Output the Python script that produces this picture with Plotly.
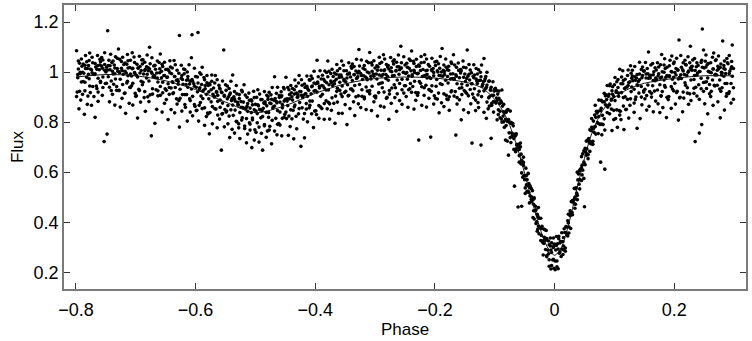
import plotly.graph_objects as go

# Phase-folded light curve, first block of observations (phase, normalised flux)
PHASE = [
    -0.790, -0.791, -0.792, -0.793, -0.794, -0.795, -0.796, -0.797, -0.798, -0.799,
    -0.781, -0.781, -0.782, -0.784, -0.785, -0.785, -0.786, -0.788, -0.789, -0.789,
    -0.770, -0.772, -0.773, -0.773, -0.774, -0.776, -0.777, -0.777, -0.778, -0.779,
    -0.760, -0.761, -0.763, -0.764, -0.764, -0.765, -0.767, -0.768, -0.768, -0.769,
    -0.750, -0.752, -0.752, -0.753, -0.755, -0.756, -0.756, -0.757, -0.759, -0.759,
    -0.740, -0.741, -0.742, -0.743, -0.744, -0.745, -0.746, -0.747, -0.748, -0.749,
    -0.731, -0.731, -0.732, -0.734, -0.735, -0.735, -0.736, -0.738, -0.739, -0.739,
    -0.720, -0.722, -0.723, -0.723, -0.724, -0.726, -0.727, -0.727, -0.728, -0.729,
    -0.710, -0.711, -0.713, -0.714, -0.714, -0.715, -0.717, -0.718, -0.718, -0.719,
    -0.700, -0.702, -0.702, -0.703, -0.705, -0.706, -0.706, -0.707, -0.709, -0.709,
    -0.690, -0.691, -0.692, -0.693, -0.694, -0.695, -0.696, -0.697, -0.698, -0.699,
    -0.681, -0.681, -0.682, -0.684, -0.685, -0.685, -0.686, -0.688, -0.689, -0.689,
    -0.670, -0.672, -0.673, -0.673, -0.674, -0.676, -0.677, -0.677, -0.678, -0.679,
    -0.660, -0.661, -0.663, -0.664, -0.664, -0.665, -0.667, -0.668, -0.668, -0.669,
    -0.650, -0.652, -0.652, -0.653, -0.655, -0.656, -0.656, -0.657, -0.659, -0.659,
    -0.640, -0.641, -0.642, -0.643, -0.644, -0.645, -0.646, -0.647, -0.648, -0.649,
    -0.631, -0.631, -0.632, -0.634, -0.635, -0.635, -0.636, -0.638, -0.639, -0.639,
    -0.620, -0.622, -0.623, -0.623, -0.624, -0.626, -0.627, -0.627, -0.628, -0.629,
    -0.610, -0.611, -0.613, -0.614, -0.614, -0.615, -0.617, -0.618, -0.618, -0.619,
    -0.600, -0.602, -0.602, -0.603, -0.605, -0.606, -0.606, -0.607, -0.609, -0.609,
    -0.590, -0.591, -0.592, -0.593, -0.594, -0.595, -0.596, -0.597, -0.598, -0.599,
    -0.581, -0.581, -0.582, -0.584, -0.585, -0.585, -0.586, -0.588, -0.589, -0.589,
    -0.570, -0.572, -0.573, -0.573, -0.574, -0.576, -0.577, -0.577, -0.578, -0.579,
    -0.560, -0.561, -0.563, -0.564, -0.564, -0.565, -0.567, -0.568, -0.568, -0.569,
    -0.550, -0.552, -0.552, -0.553, -0.555, -0.556, -0.556, -0.557, -0.559, -0.559,
    -0.540, -0.541, -0.542, -0.543, -0.544, -0.545, -0.546, -0.547, -0.548, -0.549,
    -0.531, -0.531, -0.532, -0.534, -0.535, -0.535, -0.536, -0.538, -0.539, -0.539,
    -0.520, -0.522, -0.523, -0.523, -0.524, -0.526, -0.527, -0.527, -0.528, -0.529,
    -0.510, -0.511, -0.513, -0.514, -0.514, -0.515, -0.517, -0.518, -0.518, -0.519,
    -0.500, -0.502, -0.502, -0.503, -0.505, -0.506, -0.506, -0.507, -0.509, -0.509,
    -0.490, -0.491, -0.492, -0.493, -0.494, -0.495, -0.496, -0.497, -0.498, -0.499,
    -0.481, -0.481, -0.482, -0.484, -0.485, -0.485, -0.486, -0.488, -0.489, -0.489,
    -0.470, -0.472, -0.473, -0.473, -0.474, -0.476, -0.477, -0.477, -0.478, -0.479,
    -0.460, -0.461, -0.463, -0.464, -0.464, -0.465, -0.467, -0.468, -0.468, -0.469,
    -0.450, -0.452, -0.452, -0.453, -0.455, -0.456, -0.456, -0.457, -0.459, -0.459,
    -0.440, -0.441, -0.442, -0.443, -0.444, -0.445, -0.446, -0.447, -0.448, -0.449,
    -0.431, -0.431, -0.432, -0.434, -0.435, -0.435, -0.436, -0.438, -0.439, -0.439,
    -0.420, -0.422, -0.423, -0.423, -0.424, -0.426, -0.427, -0.427, -0.428, -0.429,
    -0.410, -0.411, -0.413, -0.414, -0.414, -0.415, -0.417, -0.418, -0.418, -0.419,
    -0.400, -0.402, -0.402, -0.403, -0.405, -0.406, -0.406, -0.407, -0.409, -0.409,
    -0.390, -0.391, -0.392, -0.393, -0.394, -0.395, -0.396, -0.397, -0.398, -0.399,
    -0.381, -0.381, -0.382, -0.384, -0.385, -0.385, -0.386, -0.388, -0.389, -0.389,
    -0.370, -0.372, -0.373, -0.373, -0.374, -0.376, -0.377, -0.377, -0.378, -0.379,
    -0.360, -0.361, -0.363, -0.364, -0.364, -0.365, -0.367, -0.368, -0.368, -0.369,
    -0.350, -0.352, -0.352, -0.353, -0.355, -0.356, -0.356, -0.357, -0.359, -0.359,
    -0.340, -0.341, -0.342, -0.343, -0.344, -0.345, -0.346, -0.347, -0.348, -0.349,
    -0.331, -0.331, -0.332, -0.334, -0.335, -0.335, -0.336, -0.338, -0.339, -0.339,
    -0.320, -0.322, -0.323, -0.323, -0.324, -0.326, -0.327, -0.327, -0.328, -0.329,
    -0.310, -0.311, -0.313, -0.314, -0.314, -0.315, -0.317, -0.318, -0.318, -0.319,
    -0.300, -0.302, -0.302, -0.303, -0.305, -0.306, -0.306, -0.307, -0.309, -0.309,
    -0.290, -0.291, -0.292, -0.293, -0.294, -0.295, -0.296, -0.297, -0.298, -0.299,
    -0.281, -0.281, -0.282, -0.284, -0.285, -0.285, -0.286, -0.288, -0.289, -0.289,
    -0.270, -0.272, -0.273, -0.273, -0.274, -0.276, -0.277, -0.277, -0.278, -0.279,
    -0.260, -0.261, -0.263, -0.264, -0.264, -0.265, -0.267, -0.268, -0.268, -0.269,
    -0.250, -0.252, -0.252, -0.253, -0.255, -0.256, -0.256, -0.257, -0.259, -0.259,
    -0.240, -0.241, -0.242, -0.243, -0.244, -0.245, -0.246, -0.247, -0.248, -0.249,
    -0.231, -0.231, -0.232, -0.234, -0.235, -0.235, -0.236, -0.238, -0.239, -0.239,
    -0.220, -0.222, -0.223, -0.223, -0.224, -0.226, -0.227, -0.227, -0.228, -0.229,
    -0.210, -0.211, -0.213, -0.214, -0.214, -0.215, -0.217, -0.218, -0.218, -0.219,
    -0.200, -0.202, -0.202, -0.203, -0.205, -0.206, -0.206, -0.207, -0.209, -0.209,
    -0.190, -0.191, -0.192, -0.193, -0.194, -0.195, -0.196, -0.197, -0.198, -0.199,
    -0.181, -0.181, -0.182, -0.184, -0.185, -0.185, -0.186, -0.188, -0.189, -0.189,
    -0.170, -0.172, -0.173, -0.173, -0.174, -0.176, -0.177, -0.177, -0.178, -0.179,
    -0.160, -0.161, -0.163, -0.164, -0.164, -0.165, -0.167, -0.168, -0.168, -0.169,
    -0.150, -0.152, -0.152, -0.153, -0.155, -0.156, -0.156, -0.157, -0.159, -0.159,
    -0.140, -0.141, -0.142, -0.143, -0.144, -0.145, -0.146, -0.147, -0.148, -0.149,
    -0.131, -0.131, -0.132, -0.134, -0.135, -0.135, -0.136, -0.138, -0.139, -0.139,
    -0.120, -0.122, -0.123, -0.123, -0.124, -0.126, -0.127, -0.127, -0.128, -0.129,
    -0.110, -0.111, -0.113, -0.114, -0.114, -0.115, -0.117, -0.118, -0.118, -0.119,
    -0.100, -0.102, -0.102, -0.103, -0.105, -0.106, -0.106, -0.107, -0.109, -0.109,
    -0.090, -0.091, -0.092, -0.093, -0.094, -0.095, -0.096, -0.097, -0.098, -0.099,
    -0.081, -0.081, -0.082, -0.084, -0.085, -0.085, -0.086, -0.088, -0.089, -0.089,
    -0.070, -0.072, -0.073, -0.073, -0.074, -0.076, -0.077, -0.077, -0.078, -0.079,
    -0.060, -0.061, -0.063, -0.064, -0.064, -0.065, -0.067, -0.068, -0.068, -0.069,
    -0.050, -0.052, -0.052, -0.053, -0.055, -0.056, -0.056, -0.057, -0.059, -0.059,
    -0.040, -0.041, -0.042, -0.043, -0.044, -0.045, -0.046, -0.047, -0.048, -0.049,
    -0.031, -0.031, -0.032, -0.034, -0.035, -0.035, -0.036, -0.038, -0.039, -0.039,
    -0.020, -0.022, -0.023, -0.023, -0.024, -0.026, -0.027, -0.027, -0.028, -0.029,
    -0.010, -0.011, -0.013, -0.014, -0.014, -0.015, -0.017, -0.018, -0.018, -0.019,
    -0.001, -0.002, -0.002, -0.003, -0.005, -0.006, -0.006, -0.007, -0.009, -0.009,
    0.000, 0.001, 0.002, 0.003, 0.004, 0.005, 0.006, 0.007, 0.008, 0.009,
    0.011, 0.011, 0.012, 0.014, 0.015, 0.015, 0.016, 0.018, 0.019, 0.019,
    0.020, 0.022, 0.023, 0.023, 0.024, 0.026, 0.027, 0.027, 0.028, 0.029,
    0.030, 0.031, 0.033, 0.034, 0.034, 0.035, 0.037, 0.038, 0.038, 0.039,
    0.040, 0.042, 0.042, 0.043, 0.045, 0.046, 0.046, 0.047, 0.049, 0.049,
    0.050, 0.051, 0.052, 0.053, 0.054, 0.055, 0.056, 0.057, 0.058, 0.059,
    0.061, 0.061, 0.062, 0.064, 0.065, 0.065, 0.066, 0.068, 0.069, 0.069,
    0.070, 0.072, 0.073, 0.073, 0.074, 0.076, 0.077, 0.077, 0.078, 0.079,
    0.080, 0.081, 0.083, 0.084, 0.084, 0.085, 0.087, 0.088, 0.088, 0.089,
    0.090, 0.092, 0.092, 0.093, 0.095, 0.096, 0.096, 0.097, 0.099, 0.099,
    0.100, 0.101, 0.102, 0.103, 0.104, 0.105, 0.106, 0.107, 0.108, 0.109,
    0.111, 0.111, 0.112, 0.114, 0.115, 0.115, 0.116, 0.118, 0.119, 0.119,
    0.120, 0.122, 0.123, 0.123, 0.124, 0.126, 0.127, 0.127, 0.128, 0.129,
    0.130, 0.131, 0.133, 0.134, 0.134, 0.135, 0.137, 0.138, 0.138, 0.139,
    0.140, 0.142, 0.142, 0.143, 0.145, 0.146, 0.146, 0.147, 0.149, 0.149,
    0.150, 0.151, 0.152, 0.153, 0.154, 0.155, 0.156, 0.157, 0.158, 0.159,
    0.161, 0.161, 0.162, 0.164, 0.165, 0.165, 0.166, 0.168, 0.169, 0.169,
    0.170, 0.172, 0.173, 0.173, 0.174, 0.176, 0.177, 0.177, 0.178, 0.179,
    0.180, 0.181, 0.183, 0.184, 0.184, 0.185, 0.187, 0.188, 0.188, 0.189,
    0.190, 0.192, 0.192, 0.193, 0.195, 0.196, 0.196, 0.197, 0.199, 0.199,
    0.200, 0.201, 0.202, 0.203, 0.204, 0.205, 0.206, 0.207, 0.208, 0.209,
    0.211, 0.211, 0.212, 0.214, 0.215, 0.215, 0.216, 0.218, 0.219, 0.219,
    0.220, 0.222, 0.223, 0.223, 0.224, 0.226, 0.227, 0.227, 0.228, 0.229,
    0.230, 0.231, 0.233, 0.234, 0.234, 0.235, 0.237, 0.238, 0.238, 0.239,
    0.240, 0.242, 0.242, 0.243, 0.245, 0.246, 0.246, 0.247, 0.249, 0.249,
    0.250, 0.251, 0.252, 0.253, 0.254, 0.255, 0.256, 0.257, 0.258, 0.259,
    0.261, 0.261, 0.262, 0.264, 0.265, 0.265, 0.266, 0.268, 0.269, 0.269,
    0.270, 0.272, 0.273, 0.273, 0.274, 0.276, 0.277, 0.277, 0.278, 0.279,
    0.280, 0.281, 0.283, 0.284, 0.284, 0.285, 0.287, 0.288, 0.288, 0.289,
    0.290, 0.292, 0.292, 0.293, 0.295, 0.296, 0.296, 0.297, 0.299, 0.299,
]

FLUX = [
    1.023, 1.052, 0.888, 0.999, 1.035, 0.853, 1.044, 0.990, 0.920, 1.085,
    1.014, 0.871, 1.041, 1.066, 0.959, 1.027, 0.831, 1.032, 0.999, 0.911,
    0.902, 1.037, 0.997, 1.059, 0.867, 1.012, 1.076, 0.944, 1.046, 0.991,
    1.051, 1.009, 0.883, 1.025, 1.066, 0.934, 1.020, 0.819, 1.034, 0.990,
    1.000, 1.077, 1.030, 0.722, 1.048, 1.015, 0.907, 1.058, 0.958, 1.041,
    1.038, 0.926, 1.071, 1.009, 0.881, 1.047, 1.026, 1.165, 0.752, 1.019,
    1.014, 1.055, 0.942, 1.061, 0.993, 0.868, 1.028, 1.044, 0.911, 1.003,
    1.030, 1.059, 0.895, 1.006, 1.042, 0.860, 1.051, 0.997, 0.927, 1.092,
    1.018, 0.875, 1.045, 1.070, 0.963, 1.031, 0.835, 1.036, 1.003, 0.915,
    0.903, 1.038, 0.998, 1.060, 0.868, 1.013, 1.077, 0.945, 1.047, 0.992,
    1.048, 1.006, 0.880, 1.022, 1.063, 0.931, 1.017, 0.816, 1.031, 0.987,
    0.991, 1.068, 1.021, 0.843, 1.039, 1.006, 0.898, 1.049, 0.949, 1.032,
    1.024, 0.912, 1.057, 0.995, 0.745, 1.033, 1.012, 1.099, 0.882, 1.005,
    0.997, 1.038, 0.925, 1.044, 0.976, 0.851, 1.011, 1.027, 0.795, 0.986,
    1.010, 1.039, 0.875, 0.986, 1.022, 0.840, 1.031, 0.977, 0.907, 1.072,
    0.993, 0.850, 1.020, 1.045, 0.938, 1.006, 0.810, 1.011, 0.978, 0.890,
    0.872, 1.007, 0.967, 1.029, 0.837, 0.982, 1.046, 0.914, 1.016, 0.961,
    1.012, 0.970, 0.844, 0.986, 1.027, 0.895, 1.146, 0.780, 0.995, 0.951,
    0.952, 1.029, 0.982, 0.804, 1.000, 0.967, 0.859, 1.010, 0.910, 0.993,
    0.982, 0.870, 1.015, 0.953, 0.825, 1.149, 0.970, 1.057, 0.840, 0.963,
    0.950, 0.991, 0.878, 0.997, 0.929, 0.804, 1.158, 0.980, 0.847, 0.939,
    0.957, 0.986, 0.822, 0.933, 0.969, 0.787, 0.978, 0.924, 0.854, 1.019,
    0.936, 0.793, 0.963, 0.988, 0.881, 0.949, 0.753, 0.954, 0.921, 0.833,
    0.812, 0.947, 0.907, 0.969, 0.777, 0.922, 0.986, 0.854, 0.956, 0.901,
    0.949, 0.907, 0.781, 1.088, 0.964, 0.832, 0.918, 0.688, 0.932, 0.888,
    0.886, 0.963, 0.916, 0.738, 0.934, 0.901, 0.793, 0.944, 0.844, 0.927,
    0.913, 0.801, 0.946, 0.884, 0.756, 0.922, 0.901, 0.988, 0.771, 0.894,
    0.880, 0.921, 0.808, 0.927, 0.859, 0.734, 0.894, 0.910, 0.777, 0.869,
    0.887, 0.916, 0.752, 0.863, 0.899, 0.717, 0.908, 0.854, 0.784, 0.949,
    0.871, 0.728, 0.898, 0.923, 0.816, 0.884, 0.698, 0.889, 0.856, 0.768,
    0.755, 0.890, 0.850, 0.912, 0.720, 0.865, 0.929, 0.797, 0.899, 0.844,
    0.907, 0.865, 0.739, 0.881, 0.922, 0.790, 0.876, 0.688, 0.890, 0.846,
    0.861, 0.938, 0.891, 0.713, 0.909, 0.876, 0.768, 0.919, 0.819, 0.902,
    0.906, 0.794, 0.939, 0.877, 0.749, 0.915, 0.894, 0.981, 0.764, 0.887,
    0.891, 0.932, 0.819, 0.938, 0.870, 0.745, 0.905, 0.921, 0.788, 0.880,
    0.917, 0.946, 0.782, 0.893, 0.929, 0.747, 0.938, 0.884, 0.814, 0.979,
    0.916, 0.773, 0.943, 0.968, 0.861, 0.929, 0.733, 0.934, 0.901, 0.813,
    0.812, 0.947, 0.907, 0.969, 0.703, 0.922, 0.986, 0.854, 0.956, 0.901,
    0.969, 0.927, 0.801, 0.943, 0.984, 0.852, 0.938, 0.737, 0.952, 0.908,
    0.926, 1.003, 0.956, 0.778, 0.974, 0.941, 0.833, 0.984, 0.884, 0.967,
    0.972, 0.860, 1.005, 0.943, 0.815, 0.981, 0.960, 1.047, 0.830, 0.953,
    0.957, 0.998, 0.885, 1.004, 0.936, 0.811, 0.971, 0.987, 0.854, 0.946,
    0.982, 1.011, 0.847, 0.958, 0.994, 0.812, 1.003, 0.949, 0.879, 1.044,
    0.978, 0.835, 1.005, 1.030, 0.923, 0.991, 0.795, 0.996, 0.963, 0.875,
    0.870, 1.005, 0.965, 1.027, 0.835, 0.980, 1.044, 0.912, 1.014, 0.959,
    1.022, 0.980, 0.854, 0.996, 1.037, 0.905, 0.991, 0.790, 1.005, 0.961,
    0.974, 1.051, 1.004, 0.826, 1.022, 0.989, 0.881, 1.032, 0.932, 1.015,
    1.015, 0.903, 1.048, 0.986, 0.858, 1.024, 1.003, 1.090, 0.873, 0.996,
    0.996, 1.037, 0.924, 1.043, 0.975, 0.850, 1.010, 1.026, 0.893, 0.985,
    1.016, 1.045, 0.881, 0.992, 1.028, 0.846, 1.037, 0.983, 0.913, 1.078,
    1.007, 0.864, 1.034, 1.059, 0.952, 1.020, 0.824, 1.025, 0.992, 0.904,
    0.895, 1.030, 0.990, 1.052, 0.860, 1.005, 1.069, 0.937, 1.039, 0.984,
    1.043, 1.001, 0.875, 1.017, 1.058, 0.926, 1.012, 0.811, 1.026, 0.982,
    0.991, 1.068, 1.021, 0.843, 1.039, 1.006, 0.898, 1.049, 0.949, 1.032,
    1.028, 0.916, 1.061, 0.999, 0.871, 1.037, 1.016, 1.103, 0.886, 1.009,
    1.005, 1.046, 0.933, 1.052, 0.984, 0.859, 1.019, 1.035, 0.902, 0.994,
    1.022, 1.051, 0.887, 0.998, 1.034, 0.852, 1.043, 0.989, 0.919, 1.084,
    1.010, 0.867, 1.037, 1.062, 0.955, 1.023, 0.728, 1.028, 0.995, 0.907,
    0.895, 1.030, 0.990, 1.052, 0.860, 1.005, 1.069, 0.937, 1.039, 0.984,
    1.040, 0.998, 0.872, 1.014, 1.055, 0.923, 1.009, 0.740, 1.023, 0.979,
    0.985, 1.062, 1.015, 0.837, 1.033, 1.000, 0.892, 1.043, 0.943, 1.026,
    1.019, 0.907, 1.052, 0.990, 0.862, 1.028, 1.007, 1.094, 0.877, 1.000,
    0.993, 1.034, 0.921, 1.040, 0.972, 0.847, 1.007, 1.023, 0.890, 0.982,
    1.007, 1.036, 0.872, 0.983, 1.019, 0.748, 1.028, 0.974, 0.904, 1.069,
    0.992, 0.849, 1.019, 1.044, 0.937, 1.005, 0.809, 1.010, 0.977, 0.889,
    0.873, 1.008, 0.968, 1.030, 0.838, 0.983, 1.088, 0.915, 1.017, 0.962,
    1.014, 0.972, 0.846, 0.988, 1.029, 0.897, 0.983, 0.716, 0.997, 0.953,
    0.951, 1.028, 0.981, 0.708, 0.999, 0.966, 0.858, 1.009, 0.909, 0.992,
    0.963, 0.853, 0.999, 0.939, 0.815, 0.982, 0.965, 1.054, 0.839, 0.962,
    0.931, 0.840, 0.907, 0.961, 0.875, 0.939, 0.735, 0.930, 0.901, 0.964,
    0.885, 0.817, 0.874, 0.924, 0.849, 0.912, 0.809, 0.896, 0.876, 0.935,
    0.786, 0.839, 0.728, 0.779, 0.841, 0.871, 0.824, 0.928, 0.812, 0.879,
    0.795, 0.756, 0.718, 0.799, 0.844, 0.757, 0.810, 0.668, 0.850, 0.724,
    0.701, 0.461, 0.711, 0.753, 0.693, 0.747, 0.544, 0.752, 0.734, 0.785,
    0.570, 0.627, 0.660, 0.580, 0.464, 0.672, 0.633, 0.716, 0.640, 0.691,
    0.538, 0.505, 0.477, 0.554, 0.595, 0.522, 0.570, 0.549, 0.616, 0.515,
    0.450, 0.395, 0.445, 0.497, 0.446, 0.492, 0.419, 0.500, 0.491, 0.534,
    0.320, 0.375, 0.416, 0.327, 0.378, 0.416, 0.385, 0.459, 0.373, 0.432,
    0.325, 0.288, 0.262, 0.335, 0.367, 0.291, 0.340, 0.315, 0.373, 0.269,
    0.216, 0.299, 0.337, 0.249, 0.318, 0.213, 0.289, 0.337, 0.250, 0.310,
    0.313, 0.210, 0.289, 0.343, 0.245, 0.314, 0.214, 0.334, 0.276, 0.317,
    0.263, 0.323, 0.358, 0.271, 0.339, 0.305, 0.374, 0.284, 0.383, 0.359,
    0.381, 0.345, 0.397, 0.432, 0.381, 0.446, 0.375, 0.439, 0.430, 0.483,
    0.430, 0.481, 0.535, 0.456, 0.500, 0.534, 0.516, 0.600, 0.507, 0.569,
    0.593, 0.570, 0.533, 0.611, 0.662, 0.589, 0.628, 0.608, 0.685, 0.575,
    0.462, 0.630, 0.680, 0.724, 0.672, 0.727, 0.654, 0.727, 0.717, 0.769,
    0.713, 0.766, 0.814, 0.711, 0.774, 0.804, 0.759, 0.867, 0.752, 0.819,
    0.843, 0.797, 0.754, 0.843, 0.888, 0.791, 0.846, 0.640, 0.887, 0.749,
    0.881, 0.790, 0.915, 0.612, 0.768, 0.905, 0.890, 0.838, 0.946, 0.860,
    0.903, 0.945, 0.833, 0.952, 0.888, 0.766, 0.925, 0.941, 0.810, 0.902,
    0.949, 0.978, 0.814, 0.925, 0.961, 0.779, 0.970, 0.916, 0.846, 1.011,
    0.953, 0.810, 0.980, 1.005, 0.898, 0.966, 0.770, 0.971, 0.938, 0.850,
    0.851, 0.986, 0.946, 1.008, 0.816, 0.961, 1.025, 0.893, 0.995, 0.940,
    1.007, 0.965, 0.839, 0.981, 1.022, 0.890, 0.976, 0.775, 0.990, 0.946,
    0.962, 1.039, 0.992, 0.814, 1.010, 0.977, 0.869, 1.020, 0.920, 1.003,
    1.005, 0.893, 1.038, 0.976, 0.848, 1.014, 0.993, 1.080, 0.863, 0.986,
    0.987, 1.028, 0.915, 1.034, 0.966, 0.841, 1.001, 1.017, 0.884, 0.976,
    1.008, 1.037, 0.873, 0.984, 1.020, 0.838, 1.029, 0.975, 0.905, 1.070,
    1.001, 0.858, 1.028, 1.053, 0.946, 1.014, 0.818, 1.019, 0.986, 0.898,
    0.890, 1.025, 0.985, 1.047, 0.855, 1.000, 1.064, 0.932, 1.034, 0.979,
    1.040, 0.998, 0.872, 1.014, 1.055, 0.923, 1.009, 0.808, 1.128, 0.979,
    0.989, 1.066, 1.019, 0.841, 1.037, 1.004, 0.896, 1.047, 0.947, 1.030,
    1.028, 0.916, 1.061, 0.999, 0.871, 1.037, 1.016, 1.103, 0.886, 1.009,
    1.007, 1.048, 0.935, 1.054, 0.986, 0.722, 1.021, 1.037, 0.904, 0.996,
    1.026, 0.756, 0.891, 1.002, 1.038, 0.790, 1.047, 1.172, 0.923, 1.088,
    1.016, 0.873, 1.043, 1.068, 0.961, 1.029, 0.833, 1.034, 1.001, 0.913,
    0.902, 1.037, 0.997, 1.059, 0.867, 1.012, 1.076, 0.944, 1.046, 0.991,
    1.049, 1.007, 0.881, 1.023, 1.064, 0.932, 1.018, 0.817, 1.032, 0.988,
    0.996, 1.124, 1.026, 0.848, 1.044, 1.011, 0.903, 1.054, 0.954, 1.037,
    1.033, 0.921, 1.066, 1.004, 0.876, 1.042, 1.021, 1.108, 0.891, 1.014,
]

# Second block of observations
PHASE_B = [
    -0.791, -0.793, -0.794, -0.796, -0.797, -0.799,
    -0.780, -0.782, -0.784, -0.785, -0.787, -0.788,
    -0.771, -0.772, -0.774, -0.776, -0.778, -0.779,
    -0.760, -0.763, -0.763, -0.765, -0.766, -0.768,
    -0.751, -0.752, -0.755, -0.755, -0.757, -0.759,
    -0.741, -0.743, -0.744, -0.746, -0.747, -0.749,
    -0.730, -0.732, -0.734, -0.735, -0.737, -0.738,
    -0.721, -0.722, -0.724, -0.726, -0.728, -0.729,
    -0.710, -0.713, -0.713, -0.715, -0.716, -0.718,
    -0.701, -0.702, -0.705, -0.705, -0.707, -0.709,
    -0.691, -0.693, -0.694, -0.696, -0.697, -0.699,
    -0.680, -0.682, -0.684, -0.685, -0.687, -0.688,
    -0.671, -0.672, -0.674, -0.676, -0.678, -0.679,
    -0.660, -0.663, -0.663, -0.665, -0.666, -0.668,
    -0.651, -0.652, -0.655, -0.655, -0.657, -0.659,
    -0.641, -0.643, -0.644, -0.646, -0.647, -0.649,
    -0.630, -0.632, -0.634, -0.635, -0.637, -0.638,
    -0.621, -0.622, -0.624, -0.626, -0.628, -0.629,
    -0.610, -0.613, -0.613, -0.615, -0.616, -0.618,
    -0.601, -0.602, -0.605, -0.605, -0.607, -0.609,
    -0.591, -0.593, -0.594, -0.596, -0.597, -0.599,
    -0.580, -0.582, -0.584, -0.585, -0.587, -0.588,
    -0.571, -0.572, -0.574, -0.576, -0.578, -0.579,
    -0.560, -0.563, -0.563, -0.565, -0.566, -0.568,
    -0.551, -0.552, -0.555, -0.555, -0.557, -0.559,
    -0.541, -0.543, -0.544, -0.546, -0.547, -0.549,
    -0.530, -0.532, -0.534, -0.535, -0.537, -0.538,
    -0.521, -0.522, -0.524, -0.526, -0.528, -0.529,
    -0.510, -0.513, -0.513, -0.515, -0.516, -0.518,
    -0.501, -0.502, -0.505, -0.505, -0.507, -0.509,
    -0.491, -0.493, -0.494, -0.496, -0.497, -0.499,
    -0.480, -0.482, -0.484, -0.485, -0.487, -0.488,
    -0.471, -0.472, -0.474, -0.476, -0.478, -0.479,
    -0.460, -0.463, -0.463, -0.465, -0.466, -0.468,
    -0.451, -0.452, -0.455, -0.455, -0.457, -0.459,
    -0.441, -0.443, -0.444, -0.446, -0.447, -0.449,
    -0.430, -0.432, -0.434, -0.435, -0.437, -0.438,
    -0.421, -0.422, -0.424, -0.426, -0.428, -0.429,
    -0.410, -0.413, -0.413, -0.415, -0.416, -0.418,
    -0.401, -0.402, -0.405, -0.405, -0.407, -0.409,
    -0.391, -0.393, -0.394, -0.396, -0.397, -0.399,
    -0.380, -0.382, -0.384, -0.385, -0.387, -0.388,
    -0.371, -0.372, -0.374, -0.376, -0.378, -0.379,
    -0.360, -0.363, -0.363, -0.365, -0.366, -0.368,
    -0.351, -0.352, -0.355, -0.355, -0.357, -0.359,
    -0.341, -0.343, -0.344, -0.346, -0.347, -0.349,
    -0.330, -0.332, -0.334, -0.335, -0.337, -0.338,
    -0.321, -0.322, -0.324, -0.326, -0.328, -0.329,
    -0.310, -0.313, -0.313, -0.315, -0.316, -0.318,
    -0.301, -0.302, -0.305, -0.305, -0.307, -0.309,
    -0.291, -0.293, -0.294, -0.296, -0.297, -0.299,
    -0.280, -0.282, -0.284, -0.285, -0.287, -0.288,
    -0.271, -0.272, -0.274, -0.276, -0.278, -0.279,
    -0.260, -0.263, -0.263, -0.265, -0.266, -0.268,
    -0.251, -0.252, -0.255, -0.255, -0.257, -0.259,
    -0.241, -0.243, -0.244, -0.246, -0.247, -0.249,
    -0.230, -0.232, -0.234, -0.235, -0.237, -0.238,
    -0.221, -0.222, -0.224, -0.226, -0.228, -0.229,
    -0.210, -0.213, -0.213, -0.215, -0.216, -0.218,
    -0.201, -0.202, -0.205, -0.205, -0.207, -0.209,
    -0.191, -0.193, -0.194, -0.196, -0.197, -0.199,
    -0.180, -0.182, -0.184, -0.185, -0.187, -0.188,
    -0.171, -0.172, -0.174, -0.176, -0.178, -0.179,
    -0.160, -0.163, -0.163, -0.165, -0.166, -0.168,
    -0.151, -0.152, -0.155, -0.155, -0.157, -0.159,
    -0.141, -0.143, -0.144, -0.146, -0.147, -0.149,
    -0.130, -0.132, -0.134, -0.135, -0.137, -0.138,
    -0.121, -0.122, -0.124, -0.126, -0.128, -0.129,
    -0.110, -0.113, -0.113, -0.115, -0.116, -0.118,
    -0.101, -0.102, -0.105, -0.105, -0.107, -0.109,
    -0.091, -0.093, -0.094, -0.096, -0.097, -0.099,
    -0.080, -0.082, -0.084, -0.085, -0.087, -0.088,
    -0.071, -0.072, -0.074, -0.076, -0.078, -0.079,
    -0.060, -0.063, -0.063, -0.065, -0.066, -0.068,
    -0.051, -0.052, -0.055, -0.055, -0.057, -0.059,
    -0.041, -0.043, -0.044, -0.046, -0.047, -0.049,
    -0.030, -0.032, -0.034, -0.035, -0.037, -0.038,
    -0.021, -0.022, -0.024, -0.026, -0.028, -0.029,
    -0.010, -0.013, -0.013, -0.015, -0.016, -0.018,
    -0.001, -0.002, -0.005, -0.005, -0.007, -0.009,
    0.001, 0.003, 0.004, 0.006, 0.007, 0.009,
    0.010, 0.012, 0.014, 0.015, 0.017, 0.018,
    0.021, 0.022, 0.024, 0.026, 0.028, 0.029,
    0.030, 0.033, 0.033, 0.035, 0.036, 0.038,
    0.041, 0.042, 0.045, 0.045, 0.047, 0.049,
    0.051, 0.053, 0.054, 0.056, 0.057, 0.059,
    0.060, 0.062, 0.064, 0.065, 0.067, 0.068,
    0.071, 0.072, 0.074, 0.076, 0.078, 0.079,
    0.080, 0.083, 0.083, 0.085, 0.086, 0.088,
    0.091, 0.092, 0.095, 0.095, 0.097, 0.099,
    0.101, 0.103, 0.104, 0.106, 0.107, 0.109,
    0.110, 0.112, 0.114, 0.115, 0.117, 0.118,
    0.121, 0.122, 0.124, 0.126, 0.128, 0.129,
    0.130, 0.133, 0.133, 0.135, 0.136, 0.138,
    0.141, 0.142, 0.145, 0.145, 0.147, 0.149,
    0.151, 0.153, 0.154, 0.156, 0.157, 0.159,
    0.160, 0.162, 0.164, 0.165, 0.167, 0.168,
    0.171, 0.172, 0.174, 0.176, 0.178, 0.179,
    0.180, 0.183, 0.183, 0.185, 0.186, 0.188,
    0.191, 0.192, 0.195, 0.195, 0.197, 0.199,
    0.201, 0.203, 0.204, 0.206, 0.207, 0.209,
    0.210, 0.212, 0.214, 0.215, 0.217, 0.218,
    0.221, 0.222, 0.224, 0.226, 0.228, 0.229,
    0.230, 0.233, 0.233, 0.235, 0.236, 0.238,
    0.241, 0.242, 0.245, 0.245, 0.247, 0.249,
    0.251, 0.253, 0.254, 0.256, 0.257, 0.259,
    0.260, 0.262, 0.264, 0.265, 0.267, 0.268,
    0.271, 0.272, 0.274, 0.276, 0.278, 0.279,
    0.280, 0.283, 0.283, 0.285, 0.286, 0.288,
    0.291, 0.292, 0.295, 0.295, 0.297, 0.299,
]

FLUX_B = [
    0.960, 0.993, 0.923, 1.012, 0.977, 0.902,
    0.904, 0.979, 1.014, 0.925, 0.995, 0.962,
    0.991, 0.942, 1.009, 0.918, 0.973, 1.026,
    1.028, 0.975, 0.920, 1.011, 0.944, 0.993,
    0.954, 1.007, 0.980, 0.938, 1.024, 0.963,
    0.964, 1.025, 0.939, 0.981, 1.008, 0.955,
    1.003, 0.927, 0.972, 1.016, 0.951, 0.992,
    0.991, 0.950, 1.015, 0.971, 0.926, 1.002,
    0.939, 0.985, 1.016, 0.956, 0.996, 0.916,
    0.915, 0.995, 0.955, 1.015, 0.984, 0.938,
    0.963, 0.996, 0.926, 1.015, 0.980, 0.905,
    0.901, 0.976, 1.011, 0.922, 0.992, 0.959,
    0.982, 0.933, 1.000, 0.909, 0.964, 1.017,
    1.013, 0.960, 0.905, 0.996, 0.929, 0.978,
    0.933, 0.986, 0.959, 0.917, 1.003, 0.942,
    0.936, 0.997, 0.911, 0.953, 0.980, 0.927,
    0.969, 0.893, 0.938, 0.982, 0.917, 0.958,
    0.951, 0.910, 0.975, 0.931, 0.886, 0.962,
    0.893, 0.939, 0.970, 0.910, 0.950, 0.870,
    0.863, 0.943, 0.903, 0.963, 0.932, 0.886,
    0.904, 0.937, 0.867, 0.956, 0.921, 0.846,
    0.836, 0.911, 0.946, 0.857, 0.927, 0.894,
    0.911, 0.862, 0.929, 0.838, 0.893, 0.946,
    0.936, 0.883, 0.828, 0.919, 0.852, 0.901,
    0.850, 0.903, 0.876, 0.834, 0.920, 0.859,
    0.849, 0.910, 0.824, 0.866, 0.893, 0.840,
    0.879, 0.803, 0.848, 0.892, 0.827, 0.868,
    0.858, 0.817, 0.882, 0.838, 0.793, 0.869,
    0.797, 0.843, 0.874, 0.814, 0.854, 0.774,
    0.769, 0.849, 0.809, 0.869, 0.838, 0.792,
    0.817, 0.850, 0.780, 0.869, 0.834, 0.759,
    0.764, 0.839, 0.874, 0.785, 0.855, 0.822,
    0.856, 0.807, 0.874, 0.783, 0.838, 0.891,
    0.899, 0.846, 0.791, 0.882, 0.815, 0.864,
    0.831, 0.884, 0.857, 0.815, 0.901, 0.840,
    0.849, 0.910, 0.824, 0.866, 0.893, 0.840,
    0.899, 0.823, 0.868, 0.912, 0.847, 0.888,
    0.898, 0.857, 0.922, 0.878, 0.833, 0.909,
    0.857, 0.903, 0.934, 0.874, 0.914, 0.834,
    0.844, 0.924, 0.884, 0.944, 0.913, 0.867,
    0.903, 0.936, 0.866, 0.955, 0.920, 0.845,
    0.853, 0.928, 0.963, 0.874, 0.944, 0.911,
    0.946, 0.897, 0.964, 0.873, 0.928, 0.981,
    0.988, 0.935, 0.880, 0.971, 0.904, 0.953,
    0.918, 0.971, 0.944, 0.902, 0.988, 0.927,
    0.932, 0.993, 0.907, 0.949, 0.976, 0.923,
    0.977, 0.901, 0.946, 0.990, 0.925, 0.966,
    0.970, 0.929, 0.994, 0.950, 0.905, 0.981,
    0.923, 0.969, 1.000, 0.940, 0.980, 0.900,
    0.903, 0.983, 0.943, 1.003, 0.972, 0.926,
    0.955, 0.988, 0.918, 1.007, 0.972, 0.897,
    0.899, 0.974, 1.009, 0.920, 0.990, 0.957,
    0.985, 0.936, 1.003, 0.912, 0.967, 1.020,
    1.021, 0.968, 0.913, 1.004, 0.937, 0.986,
    0.945, 0.998, 0.971, 0.929, 1.015, 0.954,
    0.954, 1.015, 0.929, 0.971, 0.998, 0.945,
    0.994, 0.918, 0.963, 1.007, 0.942, 0.983,
    0.982, 0.941, 1.006, 0.962, 0.917, 0.993,
    0.930, 0.976, 1.007, 0.947, 0.987, 0.907,
    0.905, 0.985, 0.945, 1.005, 0.974, 0.928,
    0.953, 0.986, 0.916, 1.005, 0.970, 0.895,
    0.892, 0.967, 1.002, 0.913, 0.983, 0.950,
    0.974, 0.925, 0.992, 0.901, 0.956, 1.009,
    1.006, 0.953, 0.898, 0.989, 0.922, 0.971,
    0.926, 0.979, 0.952, 0.910, 0.996, 0.935,
    0.930, 0.991, 0.905, 0.947, 0.974, 0.921,
    0.964, 0.888, 0.933, 0.977, 0.912, 0.953,
    0.943, 0.902, 0.967, 0.923, 0.878, 0.954,
    0.897, 0.948, 0.880, 0.934, 0.973, 0.925,
    0.924, 0.882, 0.907, 0.867, 0.927, 0.864,
    0.843, 0.895, 0.830, 0.886, 0.926, 0.881,
    0.846, 0.811, 0.836, 0.801, 0.864, 0.800,
    0.743, 0.794, 0.738, 0.800, 0.849, 0.803,
    0.711, 0.690, 0.707, 0.682, 0.744, 0.691,
    0.586, 0.639, 0.597, 0.647, 0.701, 0.666,
    0.545, 0.519, 0.545, 0.523, 0.587, 0.537,
    0.402, 0.464, 0.413, 0.472, 0.526, 0.482,
    0.384, 0.347, 0.379, 0.354, 0.424, 0.364,
    0.274, 0.335, 0.267, 0.328, 0.370, 0.328,
    0.308, 0.252, 0.279, 0.227, 0.305, 0.224,
    0.245, 0.307, 0.222, 0.293, 0.344, 0.282,
    0.323, 0.293, 0.323, 0.290, 0.359, 0.297,
    0.352, 0.406, 0.357, 0.426, 0.482, 0.440,
    0.486, 0.474, 0.491, 0.472, 0.537, 0.490,
    0.552, 0.606, 0.567, 0.617, 0.673, 0.640,
    0.695, 0.668, 0.693, 0.670, 0.734, 0.683,
    0.722, 0.779, 0.723, 0.779, 0.828, 0.782,
    0.836, 0.796, 0.822, 0.791, 0.855, 0.792,
    0.827, 0.881, 0.813, 0.869, 0.909, 0.863,
    0.911, 0.869, 0.892, 0.852, 0.911, 0.847,
    0.886, 0.919, 0.849, 0.938, 0.903, 0.828,
    0.843, 0.918, 0.953, 0.864, 0.934, 0.901,
    0.940, 0.891, 0.958, 0.867, 0.922, 0.975,
    0.984, 0.931, 0.876, 0.967, 0.900, 0.949,
    0.916, 0.969, 0.942, 0.900, 0.986, 0.925,
    0.931, 0.992, 0.906, 0.948, 0.975, 0.922,
    0.976, 0.900, 0.945, 0.989, 0.924, 0.965,
    0.969, 0.928, 0.993, 0.949, 0.904, 0.980,
    0.922, 0.968, 0.999, 0.939, 0.979, 0.899,
    0.902, 0.982, 0.942, 1.002, 0.971, 0.925,
    0.955, 0.988, 0.918, 1.007, 0.972, 0.897,
    0.899, 0.974, 1.009, 0.920, 0.990, 0.957,
    0.986, 0.937, 1.004, 0.913, 0.968, 1.021,
    1.023, 0.970, 0.915, 1.006, 0.939, 0.988,
    0.949, 1.002, 0.975, 0.933, 1.019, 0.958,
    0.959, 1.020, 0.934, 0.976, 1.003, 0.950,
    0.999, 0.923, 0.968, 1.012, 0.947, 0.988,
    0.988, 0.947, 1.012, 0.968, 0.923, 0.999,
    0.937, 0.983, 1.014, 0.954, 0.994, 0.914,
    0.914, 0.994, 0.954, 1.014, 0.983, 0.937,
]

# Fitted model curve
MODEL_PHASE = [-0.8, -0.75, -0.7, -0.65, -0.6, -0.55, -0.5, -0.45, -0.4, -0.35,
               -0.3, -0.25, -0.2, -0.15, -0.13, -0.12, -0.11, -0.1, -0.09, -0.08,
               -0.07, -0.06, -0.05, -0.04, -0.03, -0.02, -0.01, 0.0, 0.01, 0.02,
               0.03, 0.04, 0.05, 0.06, 0.07, 0.08, 0.09, 0.1, 0.11, 0.12,
               0.13, 0.15, 0.2, 0.25, 0.3]
MODEL_FLUX = [0.98, 0.99, 0.985, 0.965, 0.93, 0.88, 0.838, 0.866, 0.915, 0.953,
              0.974, 0.98, 0.976, 0.96, 0.946, 0.935, 0.915, 0.89, 0.858, 0.815,
              0.755, 0.68, 0.595, 0.505, 0.42, 0.345, 0.292, 0.268, 0.292, 0.36,
              0.455, 0.56, 0.655, 0.74, 0.80, 0.845, 0.875, 0.898, 0.915, 0.928,
              0.939, 0.955, 0.975, 0.985, 0.985]

X_TICKS = [-0.8, -0.6, -0.4, -0.2, 0, 0.2]
X_LABELS = ['\u22120.8', '\u22120.6', '\u22120.4', '\u22120.2', '0', '0.2']
Y_TICKS = [0.2, 0.4, 0.6, 0.8, 1.0, 1.2]
Y_LABELS = ['0.2', '0.4', '0.6', '0.8', '1', '1.2']

FONT = 'Liberation Sans, Arial, Helvetica, sans-serif'

fig = go.Figure()

fig.add_trace(go.Scatter(
    x=PHASE + PHASE_B,
    y=FLUX + FLUX_B,
    mode='markers',
    marker=dict(color='black', size=3.6, line=dict(width=0)),
    name='Data'
))

fig.add_trace(go.Scatter(
    x=MODEL_PHASE,
    y=MODEL_FLUX,
    mode='lines',
    line=dict(color='#111111', width=1, shape='spline', smoothing=0.8),
    name='Model'
))

axis_style = dict(
    showgrid=False,
    zeroline=False,
    showline=True,
    linecolor='#7a7a7a',
    linewidth=1.5,
    mirror='ticks',
    ticks='inside',
    ticklen=6,
    tickwidth=1,
    tickcolor='#333333',
    automargin=False,
    tickfont=dict(size=18, color='black', family=FONT),
)

fig.update_layout(
    width=752,
    height=341,
    margin=dict(l=64, r=6, t=5, b=52),
    paper_bgcolor='white',
    plot_bgcolor='white',
    showlegend=False,
    font=dict(family=FONT, color='black'),
    xaxis=dict(
        range=[-0.82, 0.32],
        tickvals=X_TICKS,
        ticktext=X_LABELS,
        ticklabelstandoff=4,
        title=dict(text='Phase', font=dict(size=17), standoff=0),
        **axis_style
    ),
    yaxis=dict(
        range=[0.133, 1.268],
        tickvals=Y_TICKS,
        ticktext=Y_LABELS,
        title=dict(text='Flux', font=dict(size=17), standoff=6),
        **axis_style
    ),
)

# the page's default body margin would shift the figure by 8 px
fig.write_html(
    "out.html",
    config={'displayModeBar': False},
    post_script="document.body.style.margin = '0';",
)
